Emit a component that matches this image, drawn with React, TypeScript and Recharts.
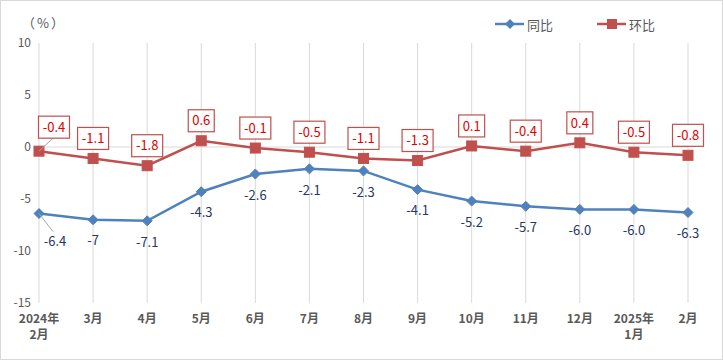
import React from 'react';
import { LineChart, Line, XAxis, YAxis, CartesianGrid, ReferenceLine, LabelList } from 'recharts';

const categories = ['2024年\n2月', '3月', '4月', '5月', '6月', '7月', '8月', '9月', '10月', '11月', '12月', '2025年\n1月', '2月'];
const yoyValues = [-6.4, -7, -7.1, -4.3, -2.6, -2.1, -2.3, -4.1, -5.2, -5.7, -6.0, -6.0, -6.3];
const yoyLabels = ['-6.4', '-7', '-7.1', '-4.3', '-2.6', '-2.1', '-2.3', '-4.1', '-5.2', '-5.7', '-6.0', '-6.0', '-6.3'];
const momValues = [-0.4, -1.1, -1.8, 0.6, -0.1, -0.5, -1.1, -1.3, 0.1, -0.4, 0.4, -0.5, -0.8];
const momLabels = ['-0.4', '-1.1', '-1.8', '0.6', '-0.1', '-0.5', '-1.1', '-1.3', '0.1', '-0.4', '0.4', '-0.5', '-0.8'];
const yTicks = [-15, -10, -5, 0, 5, 10];
const seriesNames = ['同比', '环比'];

const data = categories.map((c, i) => ({ name: c, yoy: yoyValues[i], mom: momValues[i] }));

const FONT = '"Noto Sans CJK SC", "Noto Sans", sans-serif';
const BLUE = '#4f81bd';
const RED = '#c0504d';

function XTick(props: any) {
  const { x, y, payload } = props;
  const lines = String(payload.value).split('\n');
  return (
    <text x={x} y={y} textAnchor="middle" fill="#595959" fontSize={12} fontWeight="bold" fontFamily={FONT}>
      {lines.map((l, i) => (
        <tspan key={i} x={x} dy={i === 0 ? 20 : 16}>{l}</tspan>
      ))}
    </text>
  );
}

function BlueDot(props: any) {
  const { cx, cy, index } = props;
  if (cx == null || cy == null) return <g key={index} />;
  const s = 5;
  return <path key={index} d={`M${cx},${cy - s}L${cx + s},${cy}L${cx},${cy + s}L${cx - s},${cy}Z`} fill={BLUE} stroke={BLUE} strokeWidth={1} />;
}

function RedDot(props: any) {
  const { cx, cy, index } = props;
  if (cx == null || cy == null) return <g key={index} />;
  const s = 5;
  return <rect key={index} x={cx - s} y={cy - s} width={2 * s} height={2 * s} fill={RED} stroke={RED} strokeWidth={1} />;
}

function MomLabel(props: any) {
  const { x, y, index } = props;
  const text = momLabels[index];
  const w = text.length <= 3 ? 26 : 31;
  const h = 22;
  let cx = x;
  let bottom = y - 9;
  let leader: any = null;
  if (index === 0) {
    cx = x + 15;
    bottom = y - 13;
    leader = <line x1={x} y1={y} x2={cx - 1} y2={bottom} stroke="#a6a6a6" strokeWidth={1} />;
  }
  return (
    <g>
      {leader}
      <rect x={cx - w / 2} y={bottom - h} width={w} height={h} fill="#fff" stroke={RED} strokeWidth={1.2} />
      <text x={cx} y={bottom - h / 2} dy="0.36em" textAnchor="middle" fill="#e00000" fontSize={13} fontFamily={FONT}>{text}</text>
    </g>
  );
}

function YoyLabel(props: any) {
  const { x, y, index } = props;
  const text = yoyLabels[index];
  let cx = x;
  let cy = y + 21;
  let leader: any = null;
  if (index === 0) {
    cx = x + 16;
    cy = y + 28;
    leader = <line x1={x} y1={y} x2={x + 14} y2={y + 18} stroke="#a6a6a6" strokeWidth={1} />;
  }
  return (
    <g>
      {leader}
      <text x={cx} y={cy} dy="0.36em" textAnchor="middle" fill="#1f3864" fontSize={13} fontFamily={FONT}>{text}</text>
    </g>
  );
}

export default function App() {
  return (
    <div style={{ position: 'absolute', left: 0, top: 0, width: 723, height: 360, background: '#fff', fontFamily: FONT }}>
      <LineChart width={723} height={360} data={data} margin={{ top: 43, right: 35, bottom: 27, left: 0 }}>
        <CartesianGrid horizontal={false} vertical={true} stroke="#d9d9d9" />
        <ReferenceLine y={0} stroke="#d9d9d9" strokeWidth={1} />
        <XAxis
          dataKey="name"
          height={30}
          interval={0}
          axisLine={false}
          tickLine={false}
          tickSize={0}
          tickMargin={0}
          padding={{ left: 0, right: 0 }}
          tick={<XTick />}
        />
        <YAxis
          width={39}
          domain={[-15, 10]}
          ticks={yTicks}
          axisLine={false}
          tickLine={false}
          tick={{ fill: '#595959', fontSize: 12, fontFamily: FONT }}
        />
        <Line type="linear" dataKey="yoy" stroke={BLUE} strokeWidth={2.5} dot={BlueDot} activeDot={false} isAnimationActive={false}>
          <LabelList dataKey="yoy" content={YoyLabel} />
        </Line>
        <Line type="linear" dataKey="mom" stroke={RED} strokeWidth={2.5} dot={RedDot} activeDot={false} isAnimationActive={false}>
          <LabelList dataKey="mom" content={MomLabel} />
        </Line>
      </LineChart>
      <div style={{ position: 'absolute', left: 22, top: 13, fontSize: 13, color: '#595959', lineHeight: '20px', letterSpacing: 2 }}>（%）</div>
      <div style={{ position: 'absolute', left: 495, top: 14, height: 20, display: 'flex', alignItems: 'center', fontSize: 13, color: '#595959' }}>
        <svg width={29} height={12} style={{ marginRight: 3 }}>
          <line x1={0} y1={6} x2={29} y2={6} stroke={BLUE} strokeWidth={2.5} />
          <path d="M15,1L20,6L15,11L10,6Z" fill={BLUE} />
        </svg>
        <span>{seriesNames[0]}</span>
      </div>
      <div style={{ position: 'absolute', left: 597, top: 14, height: 20, display: 'flex', alignItems: 'center', fontSize: 13, color: '#595959' }}>
        <svg width={29} height={12} style={{ marginRight: 3 }}>
          <line x1={0} y1={6} x2={29} y2={6} stroke={RED} strokeWidth={2.5} />
          <rect x={10} y={1} width={10} height={10} fill={RED} />
        </svg>
        <span>{seriesNames[1]}</span>
      </div>
      <div style={{ position: 'absolute', left: 0, top: 0, width: 723, height: 360, boxSizing: 'border-box', border: '1px solid #d9d9d9', pointerEvents: 'none' }} />
    </div>
  );
}
